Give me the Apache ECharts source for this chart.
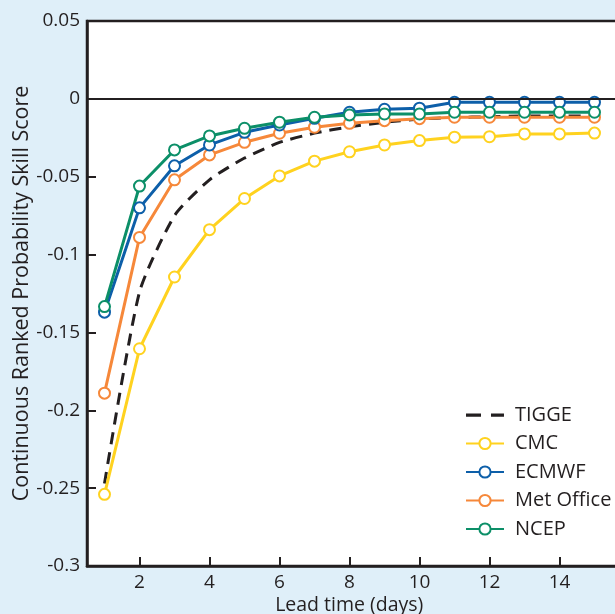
<!DOCTYPE html>
<html>
<head>
<meta charset="utf-8">
<script src="https://cdn.jsdelivr.net/npm/echarts@6/dist/echarts.min.js"></script>
<style>
html,body{margin:0;padding:0;background:#dfeff9;}
#c{width:615px;height:614px;}
</style>
</head>
<body>
<div id="c"></div>
<script>
var leadDays = [1,2,3,4,5,6,7,8,9,10,11,12,13,14,15];
var tigge    = [-0.247,-0.124,-0.075,-0.052,-0.038,-0.028,-0.022,-0.018,-0.015,-0.013,-0.012,-0.0115,-0.011,-0.011,-0.011];
var cmc      = [-0.254,-0.1605,-0.1144,-0.084,-0.064,-0.0495,-0.040,-0.034,-0.0296,-0.0268,-0.0246,-0.0243,-0.0225,-0.0225,-0.022];
var ecmwf    = [-0.137,-0.070,-0.043,-0.0296,-0.0215,-0.0168,-0.0125,-0.0086,-0.0067,-0.006,-0.0022,-0.0022,-0.0022,-0.0022,-0.0022];
var metOffice= [-0.189,-0.089,-0.052,-0.036,-0.0279,-0.0221,-0.0182,-0.0157,-0.014,-0.0127,-0.0118,-0.0118,-0.0118,-0.0118,-0.0118];
var ncep     = [-0.1334,-0.056,-0.0328,-0.0238,-0.0189,-0.015,-0.0118,-0.0103,-0.0097,-0.0097,-0.0086,-0.0086,-0.0086,-0.0086,-0.0086];
var xTicks   = [2,4,6,8,10,12,14];
var legendNames = ['TIGGE','CMC','ECMWF','Met Office','NCEP'];

var ink = '#231f20';
var font = 'Open Sans';
function pairs(arr){ return leadDays.map(function(d,i){ return [d, arr[i]]; }); }
function marked(name, data, color){
  return {
    name: name, type: 'line', data: pairs(data),
    symbol: 'circle', symbolSize: 11, showSymbol: true,
    lineStyle: {color: color, width: 3},
    itemStyle: {color: '#ffffff', borderColor: color, borderWidth: 2},
    emphasis: {disabled: true}, animation: false
  };
}
var dashIcon = 'path://M0,0h0.01v0.01h-0.01z M38,14h0.01v0.01h-0.01z M0,5.5h15v3.2h-15z M25,5.5h13v3.2h-13z';
var chart = echarts.init(document.getElementById('c'));
chart.setOption({
  backgroundColor: '#dfeff9',
  animation: false,
  grid: {left: 87, top: 21, width: 542.5, height: 545, outerBoundsMode: 'none', containLabel: false,
    show: true, backgroundColor: '#ffffff', borderColor: ink, borderWidth: 2.5},
  xAxis: {
    type: 'value', min: 0.5, max: 16,
    name: 'Lead time (days)', nameLocation: 'middle', nameGap: 29, nameMoveOverlap: false,
    nameTextStyle: {fontFamily: font, fontSize: 19.5, color: ink, padding: [0, 18, 0, 0]},
    axisLine: {show: true, onZero: false, lineStyle: {color: ink, width: 2.5}},
    axisTick: {show: true, inside: true, length: 9, customValues: xTicks, lineStyle: {color: ink, width: 2}},
    axisLabel: {customValues: xTicks, fontFamily: font, fontSize: 19, color: ink, margin: 7},
    splitLine: {show: false}
  },
  yAxis: {
    type: 'value', min: -0.3, max: 0.05, interval: 0.05,
    name: 'Continuous Ranked Probability Skill Score', nameLocation: 'middle', nameGap: 54, nameMoveOverlap: false,
    nameTextStyle: {fontFamily: font, fontSize: 21.5, color: ink},
    axisLine: {show: true, onZero: false, lineStyle: {color: ink, width: 2.5}},
    axisTick: {show: true, inside: true, length: 9, lineStyle: {color: ink, width: 2}},
    axisLabel: {fontFamily: font, fontSize: 19, color: ink, margin: 7,
      formatter: function(v){ return String(Math.round(v*100)/100); }},
    splitLine: {show: false}
  },
  legend: {
    orient: 'vertical', left: 460, top: 400,
    itemWidth: 38, itemHeight: 14, itemGap: 8.5,
    textStyle: {fontFamily: font, fontSize: 20, color: ink, padding: [0,0,0,6]},
    data: legendNames.map(function(n){
      return n === 'TIGGE' ? {name: n, icon: dashIcon, itemStyle: {color: ink}} : {name: n};
    })
  },
  series: [
    {name: 'TIGGE', type: 'line', data: pairs(tigge), symbol: 'none', smooth: 0.2,
      lineStyle: {color: ink, width: 3, type: [12, 8]}, itemStyle: {color: ink},
      markLine: {silent: true, symbol: 'none', label: {show: false},
        lineStyle: {color: ink, width: 2, type: 'solid'}, data: [{yAxis: 0}]}},
    marked('CMC', cmc, '#ffd21f'),
    marked('Met Office', metOffice, '#f6883a'),
    marked('ECMWF', ecmwf, '#0d5fa9'),
    marked('NCEP', ncep, '#0c8f68')
  ]
});
</script>
</body>
</html>
